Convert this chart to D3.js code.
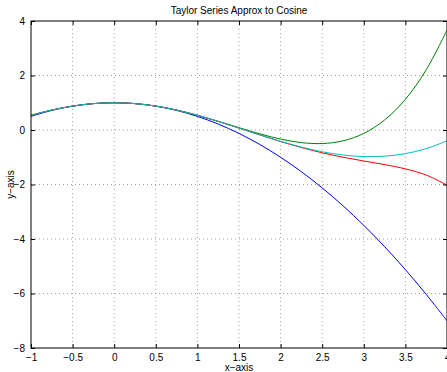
<!DOCTYPE html>
<html><head><meta charset="utf-8">
<script src="https://cdn.jsdelivr.net/npm/d3@7/dist/d3.min.js"></script>
<style>body{margin:0;background:#fff}svg{display:block}text{font-family:"Liberation Sans",Arial,sans-serif;}</style>
</head><body><svg id="c" width="447" height="372"></svg>
<script>
const xs = [-1,-0.75,-0.5,-0.25,0,0.25,0.5,0.75,1,1.25,1.5,1.75,2,2.25,2.5,2.75,3,3.25,3.5,3.75,4];
const order2 = [0.5,0.71875,0.875,0.96875,1,0.96875,0.875,0.71875,0.5,0.21875,-0.125,-0.53125,-1,-1.53125,-2.125,-2.78125,-3.5,-4.28125,-5.125,-6.03125,-7];
const order4 = [0.5417,0.7319,0.8776,0.9689,1,0.9689,0.8776,0.7319,0.5417,0.3205,0.0859,-0.1405,-0.3333,-0.4634,-0.4974,-0.3983,-0.125,0.3674,1.1276,2.2085,3.6667];
const order6 = [0.5403,0.7317,0.8776,0.9689,1,0.9689,0.8776,0.7317,0.5403,0.3152,0.0701,-0.1804,-0.4222,-0.6436,-0.8365,-0.999,-1.1375,-1.2693,-1.4256,-1.6539,-2.0222];
const order8 = [0.5403,0.7317,0.8776,0.9689,1,0.9689,0.8776,0.7317,0.5403,0.3153,0.0707,-0.1782,-0.4159,-0.6273,-0.7987,-0.9179,-0.9748,-0.9605,-0.8671,-0.684,-0.3968];
const seriesNames = ["order2","order4","order6","order8"];
const seriesColors = ["#0000ff","#008000","#ff0000","#00bfbf"];
const xTicks = [-1,-0.5,0,0.5,1,1.5,2,2.5,3,3.5,4];
const yTicks = [-8,-6,-4,-2,0,2,4];
const titleText = "Taylor Series Approx to Cosine";
const xLabel = "x\u2212axis", yLabel = "y\u2212axis";

const svg = d3.select("#c");
const L=31, R=447, T=21, B=348;
const x = d3.scaleLinear().domain([-1,4]).range([L,R]);
const y = d3.scaleLinear().domain([-8,4]).range([B,T]);
const fmt = v => String(v).replace("-","\u2212");

// grid
const g = svg.append("g");
xTicks.slice(1,-1).forEach(t=>g.append("line").attr("x1",x(t)).attr("x2",x(t)).attr("y1",T).attr("y2",B)
  .attr("stroke","#777").attr("stroke-width",0.7).attr("stroke-dasharray","1,3"));
yTicks.slice(1,-1).forEach(t=>g.append("line").attr("y1",y(t)).attr("y2",y(t)).attr("x1",L).attr("x2",R)
  .attr("stroke","#777").attr("stroke-width",0.7).attr("stroke-dasharray","1,3"));

// lines
const data = [order2,order4,order6,order8];
const line = d3.line().x((d,i)=>x(xs[i])).y(d=>y(d)).curve(d3.curveCatmullRom);
const clip = svg.append("clipPath").attr("id","cp").append("rect").attr("x",L).attr("y",T).attr("width",R-L).attr("height",B-T);
data.forEach((s,i)=>svg.append("path").attr("d",line(s)).attr("fill","none")
  .attr("stroke",seriesColors[i]).attr("stroke-width",1).attr("clip-path","url(#cp)"));

// axes (ticks inward)
const ax = svg.append("g");
ax.append("g").attr("transform",`translate(0,${B})`).call(d3.axisBottom(x).tickValues(xTicks).tickSize(-4).tickPadding(6).tickFormat(fmt));
ax.append("g").attr("transform",`translate(0,${T})`).call(d3.axisTop(x).tickValues(xTicks).tickSize(-4).tickFormat(""));
ax.append("g").attr("transform",`translate(${L},0)`).call(d3.axisLeft(y).tickValues(yTicks).tickSize(-4).tickPadding(6).tickFormat(fmt));
ax.append("g").attr("transform",`translate(${R},0)`).call(d3.axisRight(y).tickValues(yTicks).tickSize(-4).tickFormat(""));
ax.selectAll(".domain").remove();
ax.selectAll("line").attr("stroke","#000");
ax.selectAll("text").attr("font-size",10).attr("font-family","Liberation Sans, Arial, sans-serif").attr("fill","#000");
svg.append("rect").attr("x",L).attr("y",T).attr("width",R-L).attr("height",B-T).attr("fill","none").attr("stroke","#000").attr("stroke-width",1);

svg.append("text").attr("x",(L+R)/2).attr("y",14).attr("text-anchor","middle").attr("font-size",10).text(titleText);
svg.append("text").attr("x",(L+R)/2).attr("y",371).attr("text-anchor","middle").attr("font-size",10).text(xLabel);
svg.append("text").attr("transform",`translate(14,${(T+B)/2}) rotate(-90)`).attr("text-anchor","middle").attr("font-size",10).text(yLabel);
</script></body></html>
